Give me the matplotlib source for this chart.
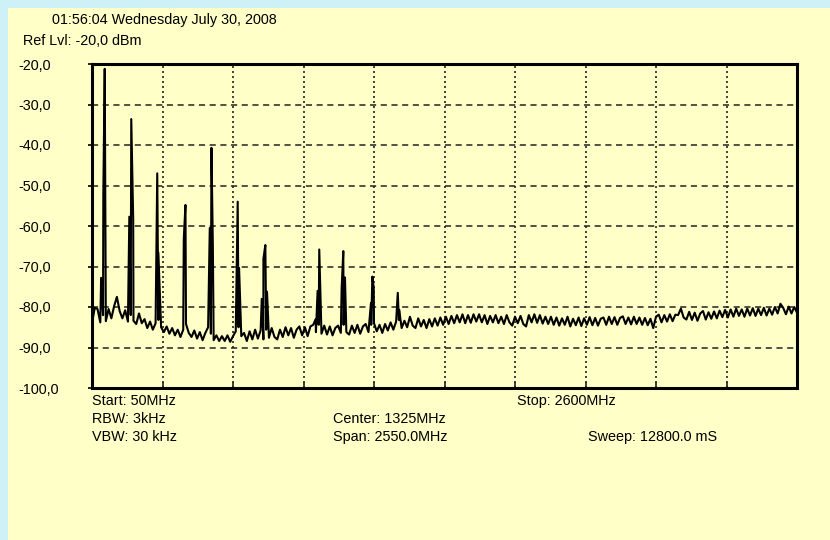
import numpy as np
import matplotlib
matplotlib.use('Agg')
import matplotlib.pyplot as plt
from matplotlib.patches import Rectangle

plt.rcParams['font.family'] = ['Liberation Sans', 'DejaVu Sans']

# Sweep settings (MHz)
f_start = 50
f_stop = 2600
f_step = 10

# Noise floor, one reading every 10 MHz from 50 to 2600 MHz (dBm)
noise_dbm = [
    -84.0, -80.2, -80.5, -83.8, -82.0, -83.5, -80.5, -82.8, -79.8, -77.5, -81.0, -82.8, -80.8, -83.6, -82.0, -83.4,
    -84.2, -81.6, -84.0, -83.0, -85.2, -83.6, -85.6, -84.0, -83.2, -85.0, -86.2, -84.8, -86.6, -85.2, -87.0, -85.6,
    -87.4, -85.6, -84.2, -86.4, -87.4, -85.8, -87.8, -86.2, -88.2, -86.4, -85.0, -86.6, -88.2, -87.0, -88.4, -87.2,
    -88.4, -87.0, -88.6, -87.2, -86.0, -85.0, -87.2, -86.4, -88.4, -86.0, -88.0, -85.6, -87.8, -85.8, -88.0, -85.6,
    -87.6, -85.2, -87.4, -88.0, -85.6, -87.4, -85.0, -87.0, -85.2, -87.6, -85.6, -84.8, -87.0, -85.0, -87.2, -84.8,
    -84.4, -86.2, -84.4, -86.6, -84.6, -86.8, -84.8, -87.0, -85.2, -84.6, -86.4, -84.4, -86.2, -86.8, -84.6, -86.4,
    -84.4, -86.6, -84.8, -84.2, -86.2, -84.4, -84.0, -86.0, -84.4, -86.4, -84.2, -85.8, -83.8, -85.6, -83.6, -83.2,
    -85.2, -83.4, -85.0, -82.4, -84.6, -85.2, -82.8, -84.8, -83.2, -85.2, -83.0, -84.8, -82.8, -84.6, -82.6, -84.4,
    -82.4, -84.2, -82.2, -84.0, -82.0, -83.8, -81.8, -84.0, -82.0, -83.9, -81.8, -83.6, -81.8, -83.8, -82.0, -84.2,
    -82.2, -83.8, -82.0, -84.0, -82.4, -84.2, -82.0, -83.8, -84.6, -82.4, -84.0, -82.2, -84.2, -84.8, -82.0, -83.8,
    -81.8, -83.9, -82.0, -84.1, -82.4, -84.2, -82.4, -84.4, -82.6, -84.6, -82.8, -84.4, -82.4, -84.8, -82.9, -84.5,
    -82.6, -84.7, -82.8, -84.4, -82.5, -84.5, -82.7, -84.6, -82.9, -82.6, -84.4, -82.4, -84.2, -82.5, -84.4, -82.7,
    -82.3, -84.2, -82.6, -84.3, -82.4, -84.2, -82.6, -84.4, -82.7, -84.5, -82.9, -85.2, -82.4, -81.9, -83.8, -82.0,
    -83.6, -81.8, -83.5, -81.9, -82.0, -80.4, -82.6, -83.1, -81.2, -83.2, -81.4, -83.4, -81.6, -81.0, -83.1, -81.3,
    -82.9, -81.1, -82.8, -80.9, -82.5, -80.7, -82.6, -80.6, -82.4, -80.4, -82.2, -80.6, -82.4, -80.4, -82.1, -80.3,
    -82.2, -80.4, -82.0, -80.2, -82.1, -80.4, -81.9, -80.0, -81.6, -79.2, -80.2, -81.8, -79.9, -81.6, -80.0, -81.4,
]

# Harmonic spikes and their side samples (MHz, dBm)
spike_mhz = [83, 91, 96, 185, 192, 199, 286, 290, 382, 388, 476, 482, 487, 577, 582,
             664, 670, 677, 683, 859, 866, 872, 953, 959, 965, 1059, 1064, 1069, 1156, 1161]
spike_dbm = [-72.8, -52.0, -21.2, -57.7, -33.6, -58.3, -47.0, -66.6, -63.2, -54.8, -60.5, -40.7, -64.2, -54.0, -70.4,
             -78.0, -68.1, -64.7, -76.2, -83.0, -76.0, -65.8, -75.3, -66.2, -72.7, -79.0, -72.5, -75.3, -76.5, -80.7]

y_ticks = [-20, -30, -40, -50, -60, -70, -80, -90, -100]
y_labels = ['-20,0', '-30,0', '-40,0', '-50,0', '-60,0', '-70,0', '-80,0', '-90,0', '-100,0']

bg_cyan = '#cdf1f7'
bg_yellow = '#ffffc8'

W, H = 830, 540
FS = 10.4


def px(x, y):
    # pixel position (top-left origin) -> figure fraction
    return x / W, 1 - y / H


def main():
    noise_mhz = np.arange(f_start, f_stop + 1, f_step)
    freq = np.concatenate([noise_mhz, spike_mhz])
    level = np.concatenate([noise_dbm, spike_dbm])
    order = np.argsort(freq, kind='stable')
    freq, level = freq[order], level[order]

    fig = plt.figure(figsize=(W / 100, H / 100), dpi=100, facecolor=bg_cyan)
    fig.patches.append(Rectangle(px(8, H), (W - 8) / W, (H - 8) / H,
                                 transform=fig.transFigure, facecolor=bg_yellow,
                                 edgecolor='none', zorder=-5))

    x0, y1 = px(92, 64)
    x1, y0 = px(797, 388)
    ax = fig.add_axes([x0, y0, x1 - x0, y1 - y0], facecolor=bg_yellow)
    ax.set_zorder(2)

    ax.plot(freq, level, color='black', lw=1.5, zorder=3)

    ax.set_xlim(f_start, f_stop)
    ax.set_ylim(-100, -20)

    # grid: dashed horizontals, dotted verticals
    for y in y_ticks[1:-1]:
        ax.axhline(y, color='#222222', lw=1.1, linestyle=(0, (4, 3)), zorder=2)
    div = (f_stop - f_start) / 10
    x_div = [f_start + div * i for i in range(1, 10)]
    for x in x_div:
        ax.axvline(x, color='#222222', lw=1.2, linestyle=(0, (1.2, 1.8)), zorder=2)

    ax.set_xticks(x_div)
    ax.set_xticklabels([])
    ax.tick_params(axis='x', direction='in', length=4, width=1.2, color='#222222')
    ax.set_yticks(y_ticks)
    ax.set_yticklabels(y_labels, ha='left', fontsize=FS)
    ax.tick_params(axis='y', direction='out', length=3, width=1.2, pad=50)

    for side in ax.spines.values():
        side.set_linewidth(2.2)
        side.set_color('black')

    txt = dict(fontsize=FS, va='center', color='black')
    fig.text(*px(52, 20), '01:56:04 Wednesday July 30, 2008', **txt)
    fig.text(*px(23, 41), 'Ref Lvl: -20,0 dBm', **txt)

    fig.text(*px(92, 401), 'Start: 50MHz', **txt)
    fig.text(*px(517, 401), 'Stop: 2600MHz', **txt)
    fig.text(*px(92, 419), 'RBW: 3kHz', **txt)
    fig.text(*px(333, 419), 'Center: 1325MHz', **txt)
    fig.text(*px(92, 437), 'VBW: 30 kHz', **txt)
    fig.text(*px(333, 437), 'Span: 2550.0MHz', **txt)
    fig.text(*px(588, 437), 'Sweep: 12800.0 mS', **txt)

    fig.savefig('out.png', dpi=100, facecolor=bg_cyan)


if __name__ == '__main__':
    main()
